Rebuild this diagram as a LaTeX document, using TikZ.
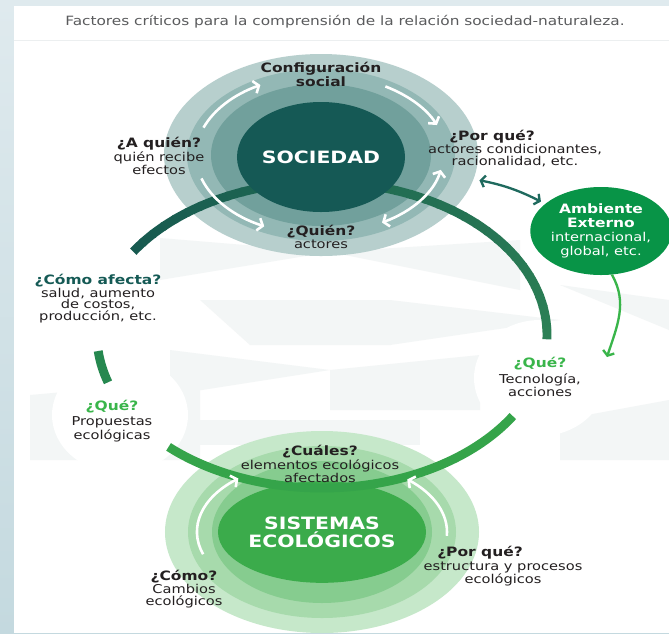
\documentclass[tikz,border=0pt]{standalone}
\usepackage{fontspec}
\setmainfont[FakeStretch=1.2]{DejaVu Sans}
\usetikzlibrary{positioning,shapes.geometric,arrows.meta}

\definecolor{stripTop}{HTML}{DFEAEE}
\definecolor{stripBot}{HTML}{C4D9DF}
\definecolor{titlegray}{HTML}{5A5B5D}
\definecolor{divider}{HTML}{ECEFF0}
\definecolor{tri}{HTML}{F3F6F6}
\definecolor{ink}{HTML}{231F20}
\definecolor{socA}{HTML}{B7CFCD}
\definecolor{socB}{HTML}{93B8B5}
\definecolor{socC}{HTML}{71A09C}
\definecolor{socD}{HTML}{155955}
\definecolor{sisA}{HTML}{C6E8CA}
\definecolor{sisB}{HTML}{A7DAAC}
\definecolor{sisC}{HTML}{86CC8F}
\definecolor{sisD}{HTML}{3BAB4B}
\definecolor{ambgreen}{HTML}{089447}
\definecolor{arcteal}{HTML}{175A50}
\definecolor{arcgreen}{HTML}{2C8055}
\definecolor{arcleft}{HTML}{26884F}
\definecolor{arcbottom}{HTML}{35A44A}
\definecolor{tealhead}{HTML}{155A55}
\definecolor{greenhead}{HTML}{39B54A}
\definecolor{linkteal}{HTML}{1F6A5E}

\newcommand{\ambhead}{\fontsize{11}{11.5}\selectfont\bfseries}
\newcommand{\ambbody}{\fontsize{10.4}{10.8}\selectfont\mdseries}

\begin{document}
\begin{tikzpicture}[
    x=0.03cm, y=0.03cm,
    head/.style={font=\fontsize{11}{12}\selectfont\bfseries, text=ink, inner sep=0pt, anchor=base, text depth=0pt},
    body/.style={font=\fontsize{10.4}{9.8}\selectfont, text=ink, align=center, inner sep=0pt},
    big/.style={ellipse, inner sep=0pt, font=\fontsize{14.5}{15.5}\selectfont\bfseries, text=white, align=center},
    warrow/.style={white, line width=2.2pt, -{Straight Barb[length=4pt,width=11pt]}},
    link/.style={line width=2pt, {Straight Barb[length=3.5pt,width=10pt]}-{Straight Barb[length=3.5pt,width=10pt]}},
    bigarc/.style={line width=7.6pt}
]
\useasboundingbox (0,0) rectangle (669,-633);

% page and title band
\shade[top color=stripTop, bottom color=stripBot] (0,0) rectangle (669,-633);
\fill[white] (14,-6) rectangle (669,-633);
\node[font=\fontsize{10.9}{11}\selectfont, text=titlegray] (title) at (345,-22) {Factores críticos para la comprensión de la relación sociedad-naturaleza.};
\draw[divider, line width=0.8pt] (14,-40) -- (669,-40);

% faint background pattern
\fill[tri] (160,-238) -- (330,-252) -- (160,-280) -- cycle;
\fill[tri] (330,-252) -- (520,-240) -- (520,-290) -- cycle;
\fill[tri] (200,-300) -- (390,-300) -- (390,-345) -- (250,-345) -- cycle;
\fill[tri] (390,-300) -- (560,-320) -- (390,-345) -- cycle;
\fill[tri] (170,-350) -- (330,-370) -- (170,-395) -- cycle;
\fill[tri] (330,-370) -- (480,-355) -- (480,-410) -- (330,-410) -- cycle;
\fill[tri] (30,-395) -- (200,-380) -- (200,-460) -- (30,-460) -- cycle;
\fill[tri] (200,-420) -- (420,-420) -- (420,-445) -- (200,-445) -- cycle;
\fill[tri] (560,-420) -- (669,-400) -- (669,-460) -- (560,-460) -- cycle;
\fill[tri] (560,-285) -- (669,-300) -- (669,-330) -- cycle;

% white blobs round the outer questions
\fill[white] (120,-415) ellipse [x radius=68, y radius=58];
\fill[white] (540,-378) ellipse [x radius=66, y radius=58];

% rings of the society
\node[ellipse, fill=socA, minimum width=9.42cm, minimum height=6.06cm, inner sep=0pt] (socring) at (321,-155) {};
\fill[socB] (321,-155) ellipse [x radius=134, y radius=86];
\fill[socC] (321,-155) ellipse [x radius=110, y radius=71];

% rings of the ecological systems
\node[ellipse, fill=sisA, minimum width=9.42cm, minimum height=6.06cm, inner sep=0pt] (sisring) at (322,-532) {};
\fill[sisB] (322,-532) ellipse [x radius=134, y radius=86];
\fill[sisC] (322,-532) ellipse [x radius=110, y radius=71];
\node[big, fill=sisD, minimum width=5.1cm, minimum height=3.05cm] (sis) at (322,-532) {SISTEMAS\\ECOLÓGICOS};

% the big cycle
\foreach \i in {0,...,36} {
    \pgfmathsetmacro\a{147-4*\i}
    \pgfmathsetmacro\p{\i*100/36}
    \draw[bigarc, color=arcgreen!\p!arcteal] (322,-335) ++(\a:225 and 153) arc[start angle=\a, end angle=\a-4.6, x radius=225, y radius=153];
}
\draw[bigarc, arcleft] (322,-335) ++(186:225 and 153) arc[start angle=186, end angle=198, x radius=225, y radius=153];
\draw[bigarc, arcbottom] (322,-335) ++(227:225 and 153) arc[start angle=227, end angle=328, x radius=225, y radius=153];

\node[big, fill=socD, minimum width=5.04cm, minimum height=3.3cm] (soc) at (321,-157) {SOCIEDAD};

% white arrows round the society
\draw[warrow] (321,-155) ++(160:125 and 80) arc[start angle=160, end angle=119, x radius=125, y radius=80];
\draw[warrow] (321,-155) ++(59:125 and 80) arc[start angle=59, end angle=22, x radius=125, y radius=80];
\draw[warrow] (321,-155) ++(197:125 and 80) arc[start angle=197, end angle=243, x radius=125, y radius=80];
\draw[warrow, {Straight Barb[length=4pt,width=11pt]}-{Straight Barb[length=4pt,width=11pt]}] (321,-155) ++(-60:122 and 78) arc[start angle=-60, end angle=-11, x radius=122, y radius=78];

% white arrows round the ecological systems
\draw[warrow] (322,-532) ++(198:125 and 72) arc[start angle=198, end angle=132, x radius=125, y radius=72];
\draw[warrow] (322,-532) ++(-3:125 and 72) arc[start angle=-3, end angle=47, x radius=125, y radius=72];

% external environment
\node[ellipse, fill=ambgreen, minimum width=4.02cm, minimum height=2.64cm, inner sep=0pt, text=white, align=center] (amb) at (601,-231) {\ambhead Ambiente\\\ambhead Externo\\\ambbody internacional,\\\ambbody global, etc.};
\coordinate (quetip) at (607,-357);
\draw[link, linkteal, shorten <=5pt, shorten >=4pt] (socring.-9) to[bend left=8] (amb.154);
\draw[line width=2pt, greenhead, -{Straight Barb[length=3.5pt,width=10pt]}] (amb.-76) to[out=-60, in=72] (quetip);

% labels of the society
\node[head, align=center, anchor=center] (config) at (321,-74) {Configuración\\social};
\node[head] (aquien) at (159,-147) {¿A quién?};
\node[body, below=3.4pt of aquien] (aquienb) {quién recibe\\efectos};
\node[head] (porque) at (492,-140) {¿Por qué?};
\node[body, below=3.4pt of porque, xshift=0.69cm] (porqueb) {actores condicionantes,\\racionalidad, etc.};
\node[head] (quien) at (321,-235) {¿Quién?};
\node[body, below=3.4pt of quien] (quienb) {actores};

% labels along the cycle
\node[head, text=tealhead] (afecta) at (98,-284) {¿Cómo afecta?};
\node[body, below=3pt of afecta] (afectab) {salud, aumento\\de costos,\\producción, etc.};
\node[head, text=greenhead] (queleft) at (112,-410) {¿Qué?};
\node[body, below=5.5pt of queleft] (queleftb) {Propuestas\\ecológicas};
\node[head, text=greenhead] (queright) at (540,-367) {¿Qué?};
\node[body, below=5.5pt of queright] (querightb) {Tecnología,\\acciones};

% labels of the ecological systems
\node[head] (cuales) at (320,-455) {¿Cuáles?};
\node[body, below=3.4pt of cuales] (cualesb) {elementos ecológicos\\afectados};
\node[head] (como) at (184,-580) {¿Cómo?};
\node[body, below=3.4pt of como] (comob) {Cambios\\ecológicos};
\node[head] (porqueeco) at (480,-556) {¿Por qué?};
\node[body, below=4.5pt of porqueeco, xshift=0.69cm] (porqueecob) {estructura y procesos\\ecológicos};

\end{tikzpicture}
\end{document}
